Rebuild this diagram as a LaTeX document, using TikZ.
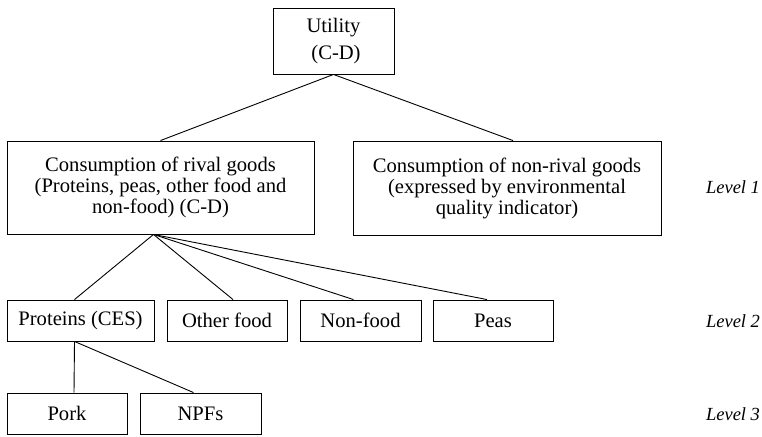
\documentclass[tikz,border=0pt]{standalone}
\usepackage{fontspec}
\setmainfont{Liberation Serif}
\usetikzlibrary{calc}
\begin{document}
\begin{tikzpicture}[x=1pt,y=-1pt,
  box/.style={draw, line width=0.9pt, inner sep=0pt, align=center,
    font=\fontsize{20.6}{21}\selectfont},
  lvl/.style={anchor=base, inner sep=0pt, font=\fontsize{18.5}{20}\selectfont\itshape},
  conn/.style={line width=0.9pt}]
\useasboundingbox (0,0) rectangle (762,436);
\node[box, minimum width=121pt, minimum height=66pt,
  font=\fontsize{20.6}{27}\selectfont] (util) at (333.5,41) {Utility\\\hspace*{5pt}(C-D)};
\node[box, minimum width=307pt, minimum height=93pt] (rival) at (160.5,187.5)
  {Consumption of rival goods\\(Proteins, peas, other food and\\non-food) (C-D)};
\node[box, minimum width=308pt, minimum height=94pt] (nonrival) at (507,188)
  {Consumption of non-rival goods\\(expressed by environmental\\quality indicator)};
\node[box, minimum width=147pt, minimum height=41pt] (prot) at (80.5,320.5) {Proteins (CES)};
\node[box, minimum width=120pt, minimum height=41pt] (other) at (227,320.5) {Other food};
\node[box, minimum width=121pt, minimum height=41pt] (nonfood) at (360.5,320.5) {Non-food};
\node[box, minimum width=120pt, minimum height=41pt] (peas) at (493,320.5) {Peas};
\node[box, minimum width=120pt, minimum height=41pt] (pork) at (67,413.5) {Pork};
\node[box, minimum width=121pt, minimum height=41pt] (npf) at (200.5,413.5) {NPFs};
\node[lvl] (l1) at (733,193) {Level 1};
\node[lvl] (l2) at (733,327) {Level 2};
\node[lvl] (l3) at (733,420) {Level 3};
\coordinate (rb) at ($(rival.south)+(-7,0)$);
\coordinate (pb) at ($(prot.south)+(-6,0)$);
\draw[conn] (util.south) -- (rival.north);
\draw[conn] (util.south) -- ($(nonrival.north)+(6,0)$);
\draw[conn] (rb) -- ($(prot.north)+(-6,0)$);
\draw[conn] (rb) -- ($(other.north)+(6,0)$);
\draw[conn] (rb) -- ($(nonfood.north)+(-7,0)$);
\draw[conn] (rb) -- ($(peas.north)+(-6,0)$);
\draw[conn] (pb) -- ($(pork.north)+(7,0)$);
\draw[conn] (pb) -- ($(npf.north)+(-7,0)$);
\end{tikzpicture}
\end{document}
